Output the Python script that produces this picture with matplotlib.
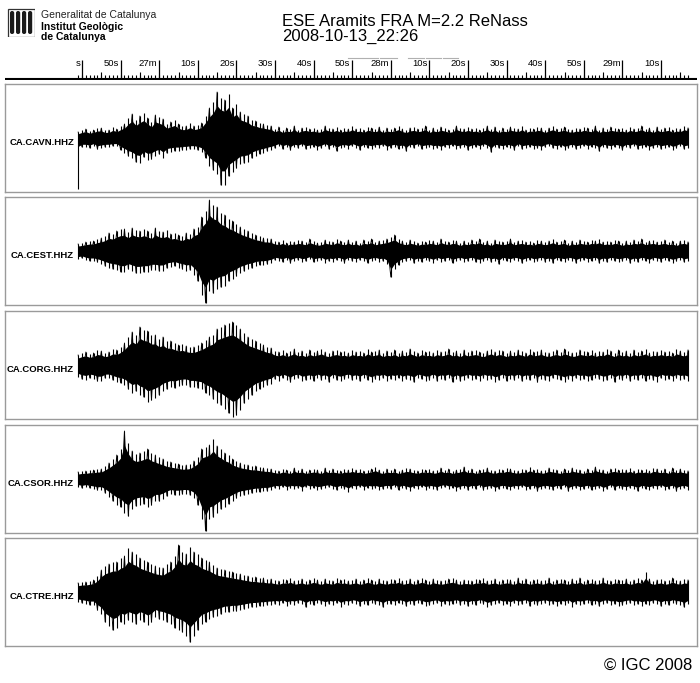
import numpy as np
import matplotlib
matplotlib.use("Agg")
import matplotlib.pyplot as plt
from matplotlib.patches import Rectangle, FancyBboxPatch

plt.rcParams['font.family'] = ['Liberation Sans', 'DejaVu Sans']

W, H = 700, 683

# ---------------- text content ----------------
title_line1 = "ESE Aramits FRA M=2.2 ReNass"
title_line2 = "2008-10-13_22:26"
logo_lines = ["Generalitat de Catalunya", "Institut Geològic", "de Catalunya"]
copyright_txt = "© IGC 2008"
stations = ["CA.CAVN.HHZ", "CA.CEST.HHZ", "CA.CORG.HHZ", "CA.CSOR.HHZ", "CA.CTRE.HHZ"]

# time axis (seconds after 22:26:00)
tick_seconds = [40, 50, 60, 70, 80, 90, 100, 110, 120, 130, 140, 150, 160, 170, 180, 190]
tick_labels = ["s", "50s", "27m", "10s", "20s", "30s", "40s", "50s",
               "28m", "10s", "20s", "30s", "40s", "50s", "29m", "10s"]

# envelope knots every 1 s, 39 s .. 197 s
knot_t = np.arange(39, 198, 1)

# ---------------- envelope values (pixel-like amplitude) ----------------
# first part: 39..89 s (event), second part: 90..197 s (coda / noise)
cavn_hi = [6, 8, 9, 7, 8, 10, 10, 8, 8, 11,
           9, 12, 14, 20, 24, 18, 22, 25, 20, 16,
           23, 21, 19, 14, 16, 18, 14, 12, 12, 15,
           12, 13, 15, 22, 30, 36, 46, 40, 38, 44,
           30, 34, 26, 24, 22, 18, 17, 15, 14, 13, 12] + \
          [9, 11, 8, 10, 9, 12, 8, 10, 11, 9, 10, 8, 9, 12, 10, 9, 11, 8, 10, 9,
           12, 9, 10, 8, 11, 10, 9, 11, 8, 10, 9, 10, 12, 9, 8, 10, 11, 9, 10, 12,
           8, 10, 9, 11, 10, 8, 9, 12, 10, 9, 11, 9, 10, 8, 10, 12, 9, 11, 8, 10,
           9, 11, 10, 9, 12, 8, 10, 9, 11, 10, 8, 10, 12, 9, 10, 11, 9, 8, 10, 9,
           11, 10, 9, 12, 8, 10, 9, 11, 10, 9, 10, 8, 11, 9, 10, 12, 9, 10, 8, 11,
           9, 10, 11, 8, 10, 9, 12, 10]
cavn_lo = [-51, -9, -9, -10, -8, -11, -10, -9, -9, -8,
           -8, -12, -15, -18, -20, -24, -25, -19, -22, -21,
           -18, -16, -20, -15, -14, -13, -13, -12, -12, -11,
           -11, -12, -14, -20, -28, -32, -36, -47, -47, -38,
           -34, -30, -26, -25, -24, -20, -18, -16, -15, -13, -12] + \
          [-10, -8, -11, -9, -12, -9, -10, -8, -11, -10, -9, -12, -10, -8, -11, -9, -13, -10, -9, -11,
           -8, -10, -12, -9, -10, -11, -9, -10, -8, -12, -10, -9, -11, -10, -13, -9, -10, -8, -11, -10,
           -9, -11, -10, -12, -9, -10, -8, -11, -10, -9, -12, -10, -9, -11, -8, -10, -14, -9, -10, -11,
           -9, -10, -12, -8, -11, -10, -9, -11, -10, -12, -9, -8, -10, -11, -9, -12, -10, -9, -11, -10,
           -8, -11, -9, -10, -13, -9, -10, -11, -9, -10, -12, -9, -10, -8, -11, -10, -9, -12, -10, -9,
           -11, -10, -9, -12, -10, -8, -11, -10]

cest_hi = [7, 8, 9, 10, 10, 12, 13, 15, 18, 17,
           20, 22, 22, 19, 23, 21, 20, 22, 20, 18,
           23, 20, 19, 21, 17, 18, 16, 15, 18, 17,
           22, 24, 34, 40, 51, 46, 44, 38, 36, 32,
           30, 27, 24, 22, 20, 18, 16, 15, 13, 13, 12] + \
          [10, 9, 11, 8, 10, 9, 11, 10, 9, 12, 10, 8, 9, 11, 10, 9, 12, 10, 9, 11,
           9, 10, 8, 11, 10, 12, 9, 10, 11, 12, 14, 16, 12, 10, 9, 11, 10, 8, 10, 9,
           11, 10, 9, 12, 10, 9, 11, 10, 8, 10, 9, 11, 10, 12, 9, 10, 8, 11, 10, 9,
           10, 12, 9, 10, 11, 9, 10, 8, 11, 10, 9, 10, 12, 9, 10, 11, 8, 10, 9, 11,
           10, 9, 11, 10, 12, 9, 10, 9, 11, 10, 8, 10, 9, 11, 10, 12, 9, 10, 11, 9,
           10, 11, 9, 10, 8, 10, 11, 9]
cest_lo = [-8, -7, -9, -10, -10, -11, -13, -15, -17, -18,
           -19, -21, -21, -18, -20, -22, -22, -21, -21, -19,
           -19, -20, -20, -17, -16, -15, -17, -18, -20, -19,
           -24, -30, -44, -52, -40, -42, -38, -36, -35, -30,
           -28, -25, -22, -20, -18, -17, -15, -14, -14, -13, -12] + \
          [-9, -10, -11, -9, -12, -10, -9, -11, -10, -8, -11, -10, -9, -12, -10, -11, -9, -10, -12, -9,
           -10, -11, -9, -10, -12, -10, -9, -11, -10, -13, -26, -18, -14, -11, -10, -9, -12, -10, -11, -9,
           -10, -12, -9, -11, -10, -9, -12, -10, -9, -11, -10, -9, -11, -12, -10, -9, -11, -10, -13, -9,
           -10, -11, -9, -10, -12, -10, -9, -11, -10, -9, -11, -10, -12, -9, -10, -11, -9, -10, -12, -10,
           -9, -11, -10, -9, -12, -10, -11, -9, -10, -11, -10, -9, -12, -10, -11, -9, -10, -12, -9, -10,
           -11, -9, -10, -12, -10, -9, -11, -10]

corg_hi = [10, 12, 13, 11, 12, 15, 14, 12, 13, 16,
           15, 18, 22, 28, 33, 30, 38, 35, 34, 30,
           30, 26, 28, 24, 24, 22, 20, 21, 19, 18,
           18, 20, 22, 25, 28, 30, 36, 38, 40, 42,
           43, 40, 36, 32, 28, 26, 24, 22, 20, 18, 17] + \
          [14, 13, 15, 12, 14, 16, 13, 14, 12, 15, 13, 14, 16, 13, 12, 14, 15, 13, 14, 12,
           15, 13, 14, 12, 16, 13, 14, 15, 12, 14, 13, 15, 12, 14, 13, 16, 14, 12, 15, 13,
           14, 12, 15, 13, 14, 16, 13, 14, 12, 15, 13, 14, 15, 13, 12, 14, 16, 13, 15, 14,
           12, 14, 13, 15, 14, 12, 16, 13, 14, 15, 13, 12, 14, 15, 13, 16, 14, 12, 13, 15,
           14, 13, 15, 12, 14, 13, 16, 14, 12, 15, 13, 14, 12, 15, 13, 14, 16, 12, 14, 13,
           15, 13, 14, 12, 16, 14, 13, 15]
corg_lo = [-12, -14, -15, -13, -14, -16, -16, -13, -13, -15,
           -17, -18, -20, -24, -28, -26, -30, -32, -37, -35,
           -33, -30, -26, -24, -22, -23, -21, -20, -20, -22,
           -22, -23, -24, -28, -30, -34, -38, -40, -44, -48,
           -52, -50, -45, -38, -34, -30, -26, -24, -22, -20, -19] + \
          [-14, -16, -13, -15, -17, -14, -13, -16, -15, -14, -16, -13, -15, -14, -17, -13, -15, -16, -14, -13,
           -15, -14, -16, -13, -15, -17, -14, -15, -13, -16, -14, -15, -13, -16, -14, -15, -17, -13, -14, -16,
           -15, -13, -16, -14, -15, -13, -17, -14, -16, -15, -13, -15, -14, -16, -13, -15, -14, -17, -15, -13,
           -16, -14, -15, -13, -16, -14, -15, -13, -17, -14, -15, -16, -13, -14, -15, -17, -14, -16, -13, -15,
           -14, -16, -15, -13, -14, -16, -15, -13, -17, -14, -15, -13, -16, -14, -15, -13, -16, -14, -15, -17,
           -13, -15, -14, -16, -13, -15, -14, -16]

csor_hi = [7, 8, 8, 9, 9, 10, 10, 13, 16, 20,
           24, 30, 48, 36, 28, 25, 26, 28, 30, 26,
           24, 22, 20, 18, 17, 16, 15, 14, 14, 15,
           18, 22, 30, 32, 34, 40, 33, 30, 26, 24,
           20, 18, 16, 15, 14, 13, 13, 12, 11, 11, 10] + \
          [9, 8, 10, 9, 8, 11, 9, 10, 8, 9, 10, 9, 8, 11, 9, 10, 9, 8, 10, 9,
           11, 9, 10, 8, 9, 10, 12, 9, 8, 10, 9, 10, 8, 9, 11, 10, 9, 8, 10, 9,
           10, 8, 9, 11, 9, 10, 8, 9, 10, 12, 9, 10, 8, 9, 10, 11, 9, 8, 10, 9,
           11, 10, 9, 8, 10, 9, 12, 9, 10, 8, 9, 11, 10, 9, 8, 10, 9, 11, 10, 9,
           8, 10, 9, 12, 10, 9, 8, 10, 11, 9, 10, 9, 11, 8, 10, 9, 10, 8, 11, 10,
           9, 10, 8, 11, 9, 10, 9, 8]
csor_lo = [-8, -9, -8, -9, -10, -11, -11, -14, -18, -22,
           -26, -28, -34, -37, -30, -27, -26, -25, -28, -26,
           -22, -22, -20, -17, -15, -16, -16, -15, -15, -16,
           -19, -26, -40, -52, -40, -38, -34, -30, -28, -25,
           -22, -19, -17, -16, -15, -14, -13, -13, -12, -12, -11] + \
          [-9, -10, -8, -11, -9, -10, -9, -12, -8, -10, -9, -11, -10, -9, -8, -10, -11, -9, -10, -13,
           -9, -10, -8, -11, -9, -10, -9, -11, -10, -9, -10, -8, -11, -9, -10, -12, -9, -10, -8, -11,
           -9, -10, -11, -9, -8, -10, -9, -12, -10, -9, -11, -9, -10, -8, -11, -10, -9, -12, -10, -9,
           -10, -11, -9, -10, -8, -11, -10, -9, -12, -10, -9, -10, -11, -9, -10, -8, -12, -10, -9, -11,
           -10, -9, -11, -10, -9, -12, -10, -8, -11, -9, -10, -11, -9, -10, -12, -9, -10, -11, -9, -10,
           -8, -11, -10, -9, -12, -10, -9, -11]

ctre_hi = [9, 10, 10, 11, 12, 16, 22, 26, 28, 30,
           30, 34, 36, 44, 40, 38, 34, 32, 30, 28,
           26, 25, 24, 28, 30, 36, 47, 40, 38, 45,
           40, 38, 34, 32, 30, 27, 24, 23, 22, 21,
           20, 19, 18, 17, 16, 15, 15, 14, 14, 13, 13] + \
          [12, 11, 13, 12, 14, 11, 12, 13, 11, 12, 14, 12, 11, 13, 12, 11, 14, 12, 13, 11,
           12, 13, 11, 12, 14, 12, 11, 13, 12, 11, 13, 12, 14, 11, 12, 13, 11, 12, 14, 12,
           11, 13, 12, 11, 12, 13, 14, 12, 11, 12, 12, 11, 13, 12, 14, 11, 12, 13, 11, 12,
           13, 12, 11, 14, 12, 13, 11, 12, 13, 11, 12, 14, 11, 12, 13, 12, 11, 13, 12, 14,
           11, 12, 13, 11, 12, 14, 12, 11, 13, 12, 12, 13, 11, 12, 14, 12, 20, 13, 11, 12,
           13, 11, 12, 14, 12, 11, 13, 12]
ctre_lo = [-10, -11, -12, -13, -13, -18, -22, -30, -34, -38,
           -36, -30, -32, -28, -30, -32, -28, -30, -33, -30,
           -25, -27, -28, -30, -32, -36, -38, -40, -44, -50,
           -44, -38, -32, -30, -27, -25, -24, -22, -20, -20,
           -19, -19, -18, -17, -16, -15, -15, -14, -14, -13, -13] + \
          [-12, -13, -11, -14, -12, -13, -11, -12, -15, -12, -13, -11, -12, -14, -12, -13, -11, -15, -12, -13,
           -11, -12, -14, -12, -13, -11, -12, -13, -15, -12, -12, -13, -11, -12, -14, -12, -13, -11, -12, -14,
           -13, -12, -11, -14, -12, -13, -12, -11, -13, -12, -14, -12, -13, -11, -12, -15, -13, -12, -11, -13,
           -12, -14, -11, -13, -12, -11, -14, -12, -13, -12, -11, -13, -12, -14, -12, -13, -11, -15, -12, -13,
           -12, -11, -13, -12, -14, -12, -11, -13, -12, -14, -13, -12, -11, -13, -12, -14, -12, -13, -11, -12,
           -14, -12, -13, -11, -12, -13, -15, -12]

env_hi = [cavn_hi, cest_hi, corg_hi, csor_hi, ctre_hi]
env_lo = [cavn_lo, cest_lo, corg_lo, csor_lo, ctre_lo]

# ---------------- layout (pixels) ----------------
PX_PER_S = 3.86
X0_PX, T0 = 82.0, 40.0
PANEL_L, PANEL_R = 5, 697
T_LEFT = T0 - (X0_PX - PANEL_L) / PX_PER_S
T_RIGHT = T0 + (PANEL_R - X0_PX) / PX_PER_S
panel_rows = [(84, 192), (197, 305), (311, 419), (425, 533), (538, 646)]
BORDER = '#9a9a9a'
CORE = 0.7

fig = plt.figure(figsize=(W / 100, H / 100), dpi=100)
fig.patch.set_facecolor('white')


def fy(y):
    return 1 - y / H


# ---- logo ----
ax_logo = fig.add_axes([7 / W, fy(37), 28 / W, 29 / H])
ax_logo.set_xlim(0, 28)
ax_logo.set_ylim(0, 29)
ax_logo.axis('off')
ax_logo.add_patch(Rectangle((0.5, 0.5), 27, 28, facecolor='white', edgecolor='#333333', lw=0.9))
for k in range(4):
    ax_logo.add_patch(FancyBboxPatch((3.0 + k * 6.0, 3.0), 4.2, 23,
                                     boxstyle="round,pad=0,rounding_size=2.0",
                                     facecolor='#1a1a1a', edgecolor='none'))

fig.text(41 / W, fy(18.5), logo_lines[0], fontsize=7.5, va='baseline', color='#222222')
fig.text(41 / W, fy(30), logo_lines[1], fontsize=7.5, fontweight='bold', va='baseline')
fig.text(41 / W, fy(40), logo_lines[2], fontsize=7.5, fontweight='bold', va='baseline')

# ---- title ----
fig.text(282 / W, fy(25.5), title_line1, fontsize=12, va='baseline')
fig.text(282 / W, fy(40.5), title_line2, fontsize=12, va='baseline')

# ---- time axis ----
ax_t = fig.add_axes([PANEL_L / W, fy(80), (PANEL_R - PANEL_L) / W, 26 / H])
ax_t.set_xlim(T_LEFT, T_RIGHT)
ax_t.set_ylim(0, 26)
ax_t.axis('off')
ax_t.axhline(1.5, color='black', lw=1.5)
minor_s = np.arange(39, 198)
five_s = [s for s in minor_s if s % 5 == 0 and s % 10 != 0]
ax_t.vlines(minor_s, 1.5, 5.5, color='black', lw=0.8)
ax_t.vlines(five_s, 1.5, 8.0, color='black', lw=0.8)
ax_t.vlines(tick_seconds, 1.5, 20, color='black', lw=0.9)
for s, lbl in zip(tick_seconds, tick_labels):
    ax_t.annotate(lbl, xy=(s, 16.2), xytext=(-1.2, 0), textcoords='offset points',
                  ha='right', va='center', fontsize=6.8)
# faint grey dashes above the axis
for a, b in [(108.8, 112.6), (112.9, 116.8), (117.3, 121.6), (124.5, 128.5), (129.0, 132.9), (133.4, 137.4)]:
    ax_t.plot([a, b], [22.5, 22.5], color='#b0b0b0', lw=0.8)

# ---- seismogram panels ----
for i, (top, bot) in enumerate(panel_rows):
    ax = fig.add_axes([PANEL_L / W, fy(bot), (PANEL_R - PANEL_L) / W, (bot - top) / H])
    ax.set_xlim(T_LEFT, T_RIGHT)
    ax.set_ylim(-54, 54)
    ax.set_xticks([])
    ax.set_yticks([])
    for sp in ax.spines.values():
        sp.set_color(BORDER)
        sp.set_linewidth(1.0)
    hi = np.array(env_hi[i], dtype=float)
    lo = np.array(env_lo[i], dtype=float)
    core_hi = CORE * np.minimum(hi, -2 * lo)
    core_lo = CORE * np.maximum(lo, -2 * hi)
    ax.fill_between(knot_t, core_lo, core_hi, color='black', lw=0)
    # zig-zag trace alternating between the upper and lower excursions
    zig = np.where(np.arange(len(hi)) % 2 == 0, hi, lo)
    ax.plot(knot_t, zig, color='black', lw=0.6)
    ax.vlines(knot_t, lo, hi, color='black', lw=0.8)
    cy = (top + bot) / 2
    fig.text(74 / W, fy(cy + 7), stations[i], fontsize=6.8, fontweight='bold',
             ha='right', va='baseline')

# ---- copyright ----
fig.text(692 / W, fy(670), copyright_txt, fontsize=12, ha='right', va='baseline')

fig.savefig('out.png', dpi=100)
